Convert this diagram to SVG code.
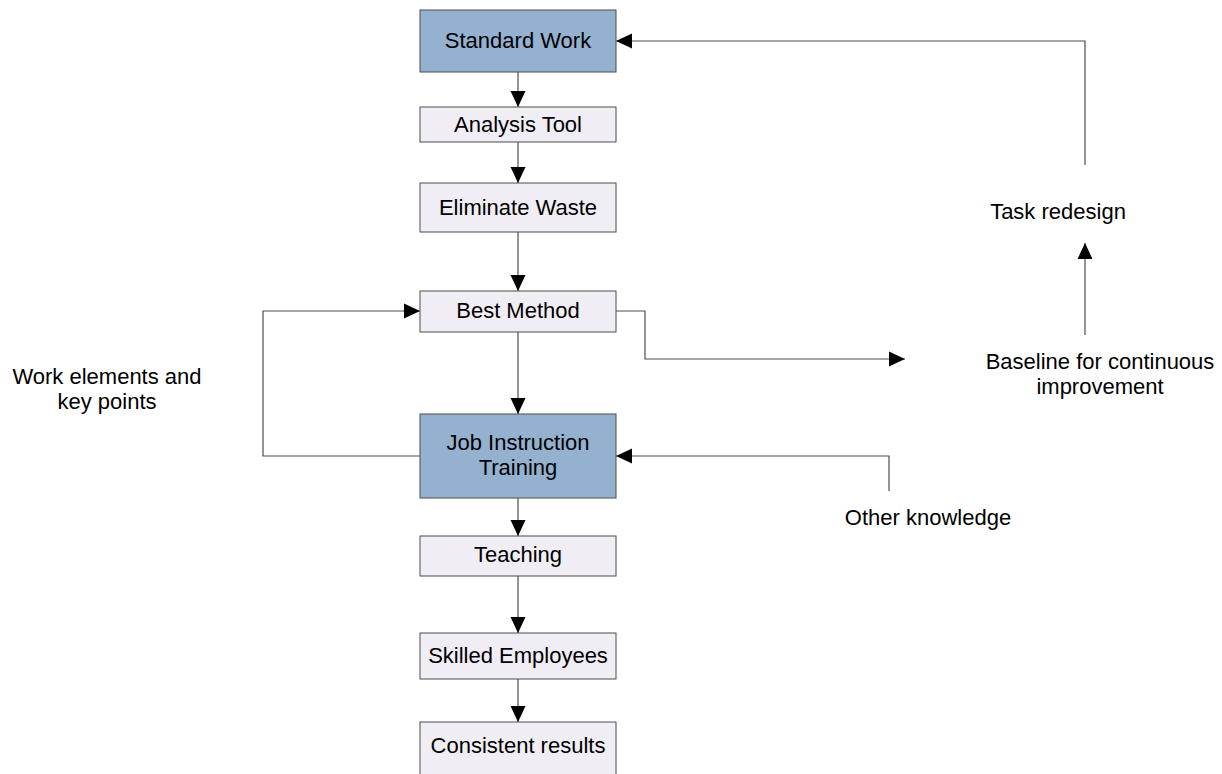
<svg xmlns="http://www.w3.org/2000/svg" width="1222" height="774" viewBox="0 0 1222 774">
<style>
.box{fill:#F0EEF4;stroke:#4d4d4d;stroke-width:1}
.key{fill:#95B1D0;stroke:#4d4d4d;stroke-width:1}
.t{font-family:"Liberation Sans",Arial,sans-serif;font-size:22px;fill:#000;text-anchor:middle}
.c{fill:none;stroke:#4d4d4d;stroke-width:1.2}
</style>
<defs>
<marker id="ah" markerUnits="userSpaceOnUse" markerWidth="16" markerHeight="16" viewBox="0 0 16 16" refX="16" refY="8" orient="auto">
<path d="M0,0.5 L16,8 L0,15.5 Z" fill="#000"/>
</marker>
</defs>
<rect width="1222" height="774" fill="#fff"/>
<g id="connectors">
<line class="c" x1="518" y1="72" x2="518" y2="107" marker-end="url(#ah)"/>
<line class="c" x1="518" y1="142" x2="518" y2="183" marker-end="url(#ah)"/>
<line class="c" x1="518" y1="232" x2="518" y2="291" marker-end="url(#ah)"/>
<line class="c" x1="518" y1="332" x2="518" y2="414" marker-end="url(#ah)"/>
<line class="c" x1="518" y1="498" x2="518" y2="536" marker-end="url(#ah)"/>
<line class="c" x1="518" y1="576" x2="518" y2="633" marker-end="url(#ah)"/>
<line class="c" x1="518" y1="679" x2="518" y2="722" marker-end="url(#ah)"/>
<polyline class="c" points="1085,165 1085,41 616,41" marker-end="url(#ah)"/>
<line class="c" x1="1085" y1="335" x2="1085" y2="243" marker-end="url(#ah)"/>
<polyline class="c" points="616,311 645,311 645,359 905,359" marker-end="url(#ah)"/>
<polyline class="c" points="420,456 263,456 263,311 420,311" marker-end="url(#ah)"/>
<polyline class="c" points="889,491 889,456 616,456" marker-end="url(#ah)"/>
</g>
<g id="standard-work"><rect class="key" x="420" y="10" width="196" height="62"/><text class="t" x="518" y="48">Standard Work</text></g>
<g id="analysis-tool"><rect class="box" x="420" y="107" width="196" height="35"/><text class="t" x="518" y="132">Analysis Tool</text></g>
<g id="eliminate-waste"><rect class="box" x="420" y="183" width="196" height="49"/><text class="t" x="518" y="215">Eliminate Waste</text></g>
<g id="best-method"><rect class="box" x="420" y="291" width="196" height="41"/><text class="t" x="518" y="318">Best Method</text></g>
<g id="job-instruction-training"><rect class="key" x="420" y="414" width="196" height="84"/><text class="t" x="518" y="450">Job Instruction</text><text class="t" x="518" y="475">Training</text></g>
<g id="teaching"><rect class="box" x="420" y="536" width="196" height="40"/><text class="t" x="518" y="562">Teaching</text></g>
<g id="skilled-employees"><rect class="box" x="420" y="633" width="196" height="46"/><text class="t" x="518" y="663">Skilled Employees</text></g>
<g id="consistent-results"><rect class="box" x="420" y="722" width="196" height="60"/><text class="t" x="518" y="753">Consistent results</text></g>
<g id="task-redesign"><text class="t" x="1058" y="219">Task redesign</text></g>
<g id="baseline"><text class="t" x="1100" y="369">Baseline for continuous</text><text class="t" x="1100" y="394">improvement</text></g>
<g id="work-elements"><text class="t" x="107" y="384">Work elements and</text><text class="t" x="107" y="409">key points</text></g>
<g id="other-knowledge"><text class="t" x="928" y="525">Other knowledge</text></g>
</svg>
